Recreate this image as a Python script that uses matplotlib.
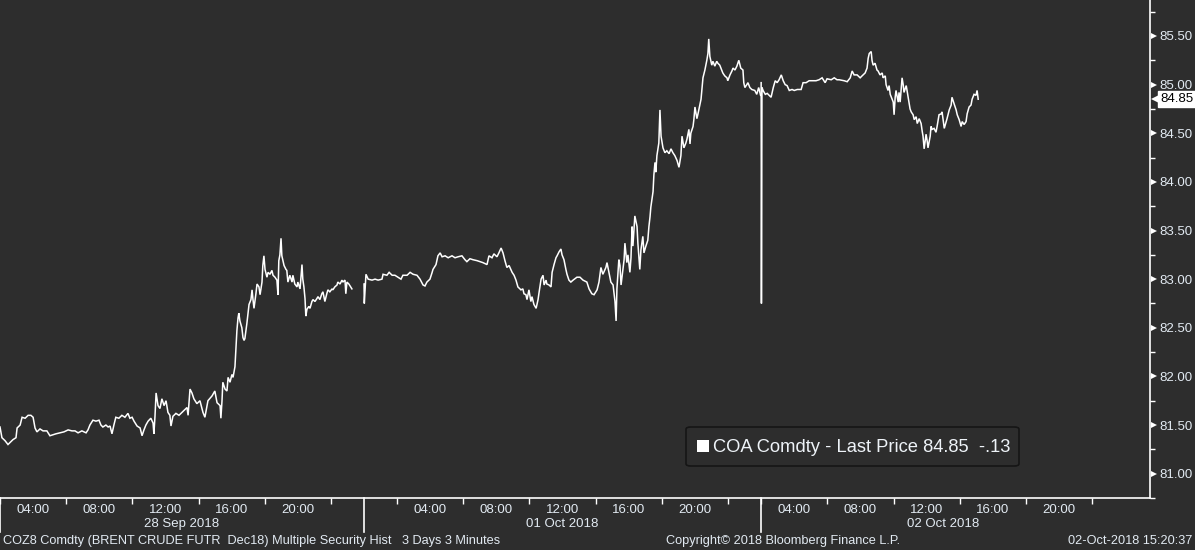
import numpy as np
import matplotlib
matplotlib.use("Agg")
import matplotlib.pyplot as plt
import matplotlib.transforms as mtransforms
from matplotlib.patches import FancyBboxPatch, Rectangle

plt.rcParams['font.family'] = ['Liberation Sans', 'DejaVu Sans']

BG = '#2d2d2d'
FG = '#e2eaf2'

# trading sessions shown on the compressed time axis
day_labels = ['28 Sep 2018', '01 Oct 2018', '02 Oct 2018']
day_offsets = [0, 22, 46]     # axis position (hours) where each session starts
day_open = [2, 0, 2]          # clock hour of session start
day_length = [22, 24, 22]

# 3-minute Brent prices, minutes after session open
d1_min = [0, 7, 18, 29, 36, 47, 58, 62, 73, 80,
          91, 102, 112, 120, 127, 134, 145, 156, 170, 181,
          192, 203, 218, 232, 247, 261, 272, 283, 297, 312,
          319, 326, 337, 348, 359, 366, 373, 384, 392, 399,
          406, 413, 420, 431, 442, 453, 464, 471, 479, 486,
          497, 508, 515, 522, 529, 537, 547, 555, 558, 562,
          566, 573, 580, 587, 595, 602, 609, 616, 620, 627,
          638, 649, 660, 667, 678, 682, 689, 696, 703, 714,
          725, 736, 743, 754, 769, 779, 787, 798, 801, 805,
          808, 816, 823, 827, 834, 841, 845, 852, 856, 859,
          863, 866, 870, 877, 881, 885, 888, 895, 899, 903,
          910, 914, 917, 921, 928, 932, 939, 943, 950, 953,
          957, 961, 968, 972, 979, 986, 990, 997, 1004, 1008,
          1011, 1015, 1019, 1022, 1030, 1037, 1040, 1044, 1051, 1059,
          1062, 1069, 1077, 1080, 1088, 1095, 1098, 1102, 1106, 1109,
          1113, 1120, 1124, 1131, 1135, 1142, 1149, 1153, 1160, 1167,
          1171, 1178, 1185, 1189, 1196, 1204, 1207, 1214, 1222, 1225,
          1233, 1240, 1243, 1251, 1254, 1258, 1265, 1276]
d1_px = [81.48, 81.37, 81.34, 81.30, 81.32, 81.35, 81.37, 81.47, 81.50, 81.58,
         81.57, 81.60, 81.60, 81.58, 81.47, 81.43, 81.46, 81.44, 81.44, 81.39,
         81.40, 81.41, 81.42, 81.43, 81.45, 81.44, 81.44, 81.42, 81.44, 81.42,
         81.45, 81.50, 81.55, 81.54, 81.55, 81.50, 81.48, 81.50, 81.48, 81.49,
         81.41, 81.50, 81.58, 81.57, 81.60, 81.58, 81.62, 81.57, 81.58, 81.54,
         81.49, 81.47, 81.39, 81.45, 81.50, 81.54, 81.57, 81.52, 81.41, 81.59,
         81.83, 81.70, 81.67, 81.77, 81.70, 81.75, 81.63, 81.60, 81.49, 81.59,
         81.62, 81.60, 81.63, 81.65, 81.68, 81.60, 81.87, 81.83, 81.77, 81.72,
         81.75, 81.63, 81.58, 81.75, 81.80, 81.85, 81.73, 81.70, 81.57, 81.75,
         81.94, 81.87, 81.85, 81.99, 81.94, 82.02, 81.99, 82.10, 82.30, 82.47,
         82.60, 82.65, 82.57, 82.50, 82.40, 82.37, 82.39, 82.54, 82.64, 82.74,
         82.79, 82.89, 82.80, 82.70, 82.85, 82.95, 82.92, 82.84, 82.97, 83.14,
         83.24, 83.10, 83.02, 83.07, 83.05, 83.09, 83.04, 83.02, 82.99, 82.84,
         83.19, 83.25, 83.42, 83.24, 83.14, 83.10, 83.09, 82.97, 83.04, 82.97,
         83.04, 82.95, 82.92, 82.97, 82.90, 83.15, 83.00, 82.92, 82.80, 82.62,
         82.69, 82.72, 82.70, 82.77, 82.79, 82.77, 82.80, 82.82, 82.79, 82.85,
         82.87, 82.77, 82.85, 82.89, 82.87, 82.90, 82.89, 82.92, 82.94, 82.97,
         82.95, 82.99, 82.97, 82.99, 82.85, 82.97, 82.95, 82.90]

d2_min = [0, 1, 7, 15, 29, 40, 51, 65, 69, 83,
          91, 102, 112, 123, 134, 141, 156, 167, 178, 192,
          203, 214, 221, 228, 239, 247, 250, 261, 268, 276,
          283, 294, 305, 319, 330, 341, 355, 366, 373, 384,
          395, 410, 421, 431, 446, 453, 464, 471, 482, 489,
          497, 504, 511, 518, 526, 537, 544, 551, 558, 569,
          576, 580, 587, 591, 598, 605, 609, 616, 624, 631,
          634, 642, 649, 653, 660, 663, 671, 678, 682, 689,
          696, 700, 707, 714, 718, 725, 732, 736, 743, 750,
          758, 772, 783, 794, 808, 816, 826, 834, 845, 852,
          859, 866, 877, 881, 888, 895, 903, 906, 910, 914,
          917, 924, 928, 932, 939, 943, 946, 953, 957, 964,
          968, 972, 975, 982, 990, 993, 1000, 1004, 1011, 1015,
          1022, 1029, 1033, 1037, 1040, 1048, 1051, 1055, 1058, 1062,
          1069, 1073, 1077, 1084, 1091, 1098, 1106, 1113, 1120, 1127,
          1135, 1142, 1149, 1153, 1160, 1167, 1171, 1178, 1182, 1185,
          1193, 1196, 1200, 1207, 1211, 1222, 1229, 1236, 1243, 1247,
          1250, 1254, 1261, 1265, 1272, 1279, 1283, 1290, 1298, 1301,
          1308, 1316, 1319, 1327, 1334, 1338, 1345, 1352, 1359, 1366,
          1374, 1377, 1381, 1388, 1392, 1399, 1406, 1417, 1424, 1431, 1438]
d2_px = [82.95, 82.75, 83.05, 83.00, 82.99, 83.00, 82.99, 83.00, 83.05, 83.04,
         83.07, 83.04, 83.04, 83.02, 83.00, 83.04, 83.04, 83.07, 83.05, 83.04,
         83.00, 82.94, 82.93, 82.97, 83.00, 83.07, 83.10, 83.15, 83.24, 83.27,
         83.23, 83.24, 83.22, 83.24, 83.22, 83.23, 83.24, 83.20, 83.18, 83.21,
         83.20, 83.19, 83.18, 83.17, 83.15, 83.24, 83.22, 83.26, 83.23, 83.27,
         83.32, 83.27, 83.19, 83.12, 83.14, 83.07, 83.04, 82.99, 82.92, 82.89,
         82.90, 82.85, 82.84, 82.79, 82.89, 82.77, 82.82, 82.74, 82.70, 82.79,
         82.85, 83.00, 83.04, 82.94, 82.99, 82.95, 82.94, 82.92, 83.07, 83.15,
         83.22, 83.24, 83.28, 83.31, 83.25, 83.20, 83.10, 83.05, 82.99, 82.97,
         82.99, 83.02, 83.02, 82.99, 82.97, 82.90, 82.85, 82.84, 82.89, 82.97,
         83.12, 83.05, 83.12, 83.17, 83.07, 82.97, 82.94, 82.87, 82.77, 82.57,
         82.90, 83.20, 83.14, 82.94, 83.10, 83.20, 83.37, 83.17, 83.25, 83.07,
         83.22, 83.54, 83.34, 83.65, 83.54, 83.37, 83.10, 83.30, 83.44, 83.27,
         83.34, 83.40, 83.54, 83.64, 83.74, 83.90, 84.07, 84.20, 84.10, 84.27,
         84.40, 84.74, 84.47, 84.35, 84.30, 84.32, 84.29, 84.34, 84.30, 84.27,
         84.22, 84.15, 84.27, 84.47, 84.35, 84.40, 84.44, 84.54, 84.39, 84.50,
         84.57, 84.64, 84.77, 84.65, 84.70, 84.85, 85.07, 85.15, 85.25, 85.32,
         85.47, 85.29, 85.20, 85.24, 85.19, 85.24, 85.22, 85.20, 85.14, 85.12,
         85.09, 85.07, 85.04, 85.10, 85.14, 85.17, 85.15, 85.19, 85.25, 85.17,
         85.15, 85.02, 84.97, 85.00, 85.02, 84.97, 84.95, 84.94, 84.90, 84.97, 84.89]

d3_min = [0, 1, 3, 7, 15, 22, 29, 36, 44, 51,
          58, 65, 73, 80, 87, 94, 102, 112, 120, 131,
          145, 152, 163, 174, 185, 199, 210, 221, 232, 239,
          254, 265, 275, 283, 301, 312, 323, 330, 337, 348,
          359, 366, 377, 384, 388, 392, 399, 402, 406, 413,
          420, 424, 431, 439, 442, 450, 453, 460, 464, 468,
          475, 479, 482, 486, 489, 497, 500, 504, 511, 515,
          518, 526, 529, 533, 540, 544, 551, 555, 562, 566,
          573, 580, 584, 587, 591, 598, 602, 605, 613, 616,
          620, 627, 634, 638, 645, 653, 656, 664, 671, 674,
          682, 689, 692, 700, 707, 711, 718, 725, 729, 736,
          743, 747, 754, 761, 765, 772, 779, 783, 787]
d3_px = [85.02, 82.75, 84.97, 84.94, 84.90, 84.91, 84.89, 84.87, 84.97, 85.04,
         85.02, 85.05, 85.10, 85.04, 85.00, 84.99, 84.94, 84.95, 84.94, 84.95,
         84.95, 85.02, 85.02, 85.04, 85.04, 85.04, 85.05, 85.07, 85.02, 85.06,
         85.05, 85.07, 85.05, 85.05, 85.04, 85.03, 85.07, 85.14, 85.10, 85.10,
         85.07, 85.09, 85.12, 85.17, 85.27, 85.32, 85.34, 85.25, 85.20, 85.22,
         85.15, 85.14, 85.10, 85.12, 85.07, 85.09, 85.00, 84.94, 84.99, 84.90,
         84.85, 84.82, 84.69, 84.87, 84.94, 84.82, 84.92, 84.82, 85.07, 85.00,
         84.92, 84.99, 84.94, 84.87, 84.75, 84.72, 84.69, 84.64, 84.67, 84.60,
         84.65, 84.60, 84.52, 84.47, 84.34, 84.49, 84.42, 84.35, 84.47, 84.57,
         84.54, 84.55, 84.51, 84.57, 84.69, 84.70, 84.72, 84.55, 84.62, 84.65,
         84.74, 84.79, 84.87, 84.80, 84.74, 84.69, 84.64, 84.57, 84.62, 84.59,
         84.62, 84.70, 84.77, 84.79, 84.85, 84.90, 84.89, 84.94, 84.85]

last_price = 84.85
net_change = '-.13'
y_ticks = [81.0, 81.5, 82.0, 82.5, 83.0, 83.5, 84.0, 84.5, 85.0, 85.5]
label_hours = [4, 8, 12, 16, 20]
tick_hours = [2, 6, 10, 14, 18, 22]


def axis_pos(day, clock_hour):
    return day_offsets[day] + clock_hour - day_open[day]


fig = plt.figure(figsize=(11.95, 5.5), dpi=100, facecolor=BG)
ax = fig.add_axes([0, 1 - 498 / 550, 1150 / 1195, 498 / 550], facecolor=BG)

for d, (mins, px) in enumerate([(d1_min, d1_px), (d2_min, d2_px), (d3_min, d3_px)]):
    x = day_offsets[d] + np.asarray(mins) / 60.0
    ax.plot(x, px, color='white', lw=1.1, solid_joinstyle='miter')

ax.set_xlim(0, 69.5)
ax.set_ylim(80.9, 85.87)

for s in ['top', 'left']:
    ax.spines[s].set_visible(False)
for s in ['bottom', 'right']:
    ax.spines[s].set_color('white')
    ax.spines[s].set_linewidth(1.2)

# x axis: labels between the tick marks
major_x, major_lab, minor_x = [], [], []
for d in range(3):
    for h in label_hours:
        major_x.append(axis_pos(d, h))
        major_lab.append(f'{h:02d}:00')
    for h in tick_hours:
        if day_open[d] <= h <= day_open[d] + day_length[d]:
            minor_x.append(axis_pos(d, h))
ax.set_xticks(major_x)
ax.set_xticklabels(major_lab)
ax.set_xticks(minor_x, minor=True)
ax.tick_params(axis='x', which='major', length=0, pad=4, labelsize=9.5, labelcolor=FG)
ax.tick_params(axis='x', which='minor', length=4, width=1, color='white', direction='out')

blend_x = mtransforms.blended_transform_factory(ax.transData, ax.transAxes)
for d in range(3):
    ax.plot([day_offsets[d]] * 2, [0, -0.068], color='white', lw=1.2,
            transform=blend_x, clip_on=False)
    ax.text(day_offsets[d] + day_length[d] / 2, -0.052, day_labels[d], transform=blend_x,
            ha='center', va='center', fontsize=9.5, color=FG)

# y axis on the right
ax.yaxis.tick_right()
ax.set_yticks(y_ticks)
ax.set_yticklabels([f'{v:.2f}' for v in y_ticks])
ax.set_yticks(np.arange(80.75, 86.0, 0.5), minor=True)
ax.tick_params(axis='y', which='major', length=0, pad=7, labelsize=9.5, labelcolor=FG)
ax.tick_params(axis='y', which='minor', length=3.5, width=1, color='white', direction='out')

tri = mtransforms.blended_transform_factory(ax.transAxes, ax.transData) + \
    mtransforms.ScaledTranslation(3.5 / 100, 0, fig.dpi_scale_trans)
ax.plot([1] * len(y_ticks), y_ticks, ls='none', marker='>', ms=4.5, mew=0,
        color='white', transform=tri, clip_on=False)

# last price tag
tag = mtransforms.blended_transform_factory(ax.transAxes, ax.transData)
ax.plot([1], [last_price], ls='none', marker='<', ms=7, mew=0, color='white',
        transform=tag + mtransforms.ScaledTranslation(6 / 100, 0, fig.dpi_scale_trans),
        clip_on=False)
ax.text(1, last_price, f'{last_price:.2f}',
        transform=tag + mtransforms.ScaledTranslation(10 / 100, 0, fig.dpi_scale_trans),
        ha='left', va='center', fontsize=9.5, color='black', clip_on=False,
        bbox=dict(boxstyle='square,pad=0.15', fc='white', ec='white'))

# legend box
fig.patches.append(FancyBboxPatch((686 / 1195, 1 - 466 / 550), 333 / 1195, 39 / 550,
                                  boxstyle='round,pad=0,rounding_size=0.004',
                                  transform=fig.transFigure, fc=BG, ec='#151515', lw=1.2))
fig.patches.append(Rectangle((697 / 1195, 1 - 452 / 550), 12 / 1195, 12 / 550,
                             transform=fig.transFigure, fc='white', ec='none'))
fig.text(713 / 1195, 1 - 447 / 550, f'COA Comdty - Last Price {last_price:.2f}  {net_change}',
         ha='left', va='center', fontsize=13.2, color='#eef3f8')

# footer
fig.text(3 / 1195, 1 - 541 / 550,
         'COZ8 Comdty (BRENT CRUDE FUTR  Dec18) Multiple Security Hist   3 Days 3 Minutes',
         ha='left', va='center', fontsize=9.2, color=FG)
fig.text(783 / 1195, 1 - 541 / 550, 'Copyright\u00a9 2018 Bloomberg Finance L.P.',
         ha='center', va='center', fontsize=9.2, color=FG)
fig.text(1192 / 1195, 1 - 541 / 550, '02-Oct-2018 15:20:37',
         ha='right', va='center', fontsize=9.2, color=FG)

fig.savefig('out.png', dpi=100, facecolor=BG)
